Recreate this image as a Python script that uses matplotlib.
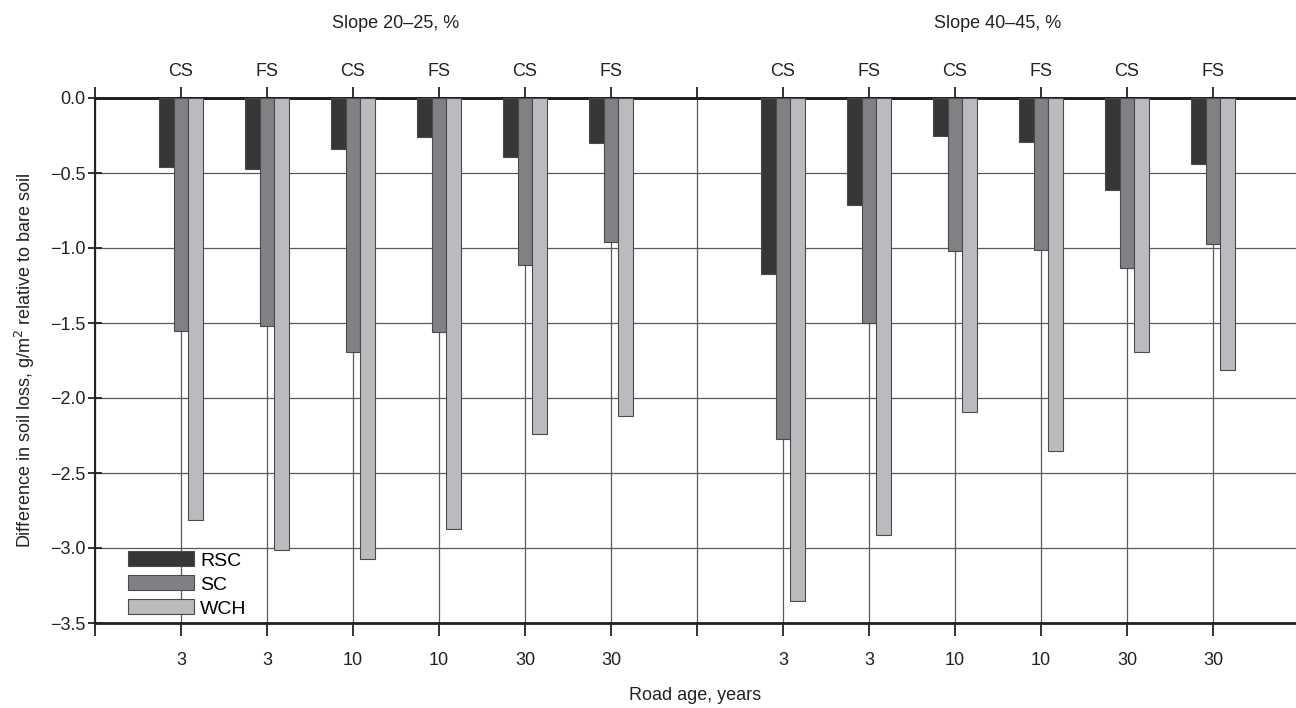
import numpy as np
import matplotlib
matplotlib.use("Agg")
import matplotlib.pyplot as plt
from matplotlib import font_manager

# pick a narrow sans if it is there
fams = {f.name for f in font_manager.fontManager.ttflist}
plt.rcParams['font.family'] = ['Liberation Sans Narrow', 'Liberation Sans', 'DejaVu Sans'] if 'Liberation Sans Narrow' in fams else ['Liberation Sans', 'DejaVu Sans']

# data
pos = [1, 2, 3, 4, 5, 6, 8, 9, 10, 11, 12, 13]
site = ['CS', 'FS', 'CS', 'FS', 'CS', 'FS', 'CS', 'FS', 'CS', 'FS', 'CS', 'FS']
age = ['3', '3', '10', '10', '30', '30', '3', '3', '10', '10', '30', '30']
rsc = [-0.46, -0.47, -0.34, -0.26, -0.39, -0.30, -1.17, -0.71, -0.25, -0.29, -0.61, -0.44]
sc = [-1.55, -1.52, -1.69, -1.56, -1.11, -0.96, -2.27, -1.50, -1.02, -1.01, -1.13, -0.97]
wch = [-2.81, -3.01, -3.07, -2.87, -2.24, -2.12, -3.35, -2.91, -2.09, -2.35, -1.69, -1.81]
slopes = ['Slope 20\u201325, %', 'Slope 40\u201345, %']
slope_x = [3.5, 10.5]
yticks = [-3.5, -3.0, -2.5, -2.0, -1.5, -1.0, -0.5, 0.0]

fig = plt.figure(figsize=(12.96, 7.08), dpi=100)
ax = fig.add_axes([95/1296, 85/708, 1201/1296, 525/708])

w = 0.171
x = np.array(pos)
kw = dict(width=w, edgecolor='#4a4a4a', linewidth=0.8, zorder=3)
ax.bar(x - w, rsc, color='#363636', label='RSC', **kw)
ax.bar(x, sc, color='#808185', label='SC', **kw)
ax.bar(x + w, wch, color='#babbbf', label='WCH', **kw)

ax.set_xlim(0, 1201/86)
ax.set_ylim(-3.5, 0)
ax.set_yticks(yticks)
ax.set_yticklabels([('%.1f' % abs(v)) if v == 0 else '\u2212%.1f' % abs(v) for v in yticks])

allticks = list(range(0, 14))
lab_bottom = [''] * 14
lab_top = [''] * 14
for p, s, a in zip(pos, site, age):
    lab_bottom[p] = a
    lab_top[p] = s
ax.set_xticks(allticks)
ax.set_xticklabels(lab_bottom)

ax.grid(True, color='#5a5a5a', linewidth=0.9)
ax.set_axisbelow(True)

for sp in ['top', 'bottom']:
    ax.spines[sp].set_linewidth(2.0)
    ax.spines[sp].set_color('#222222')
ax.spines['left'].set_linewidth(1.5)
ax.spines['left'].set_color('#222222')
ax.spines['right'].set_visible(False)

ax.tick_params(axis='x', direction='out', length=9, width=1.3, labelsize=13,
               pad=12, colors='#222222')
ax.tick_params(axis='y', direction='inout', length=10, width=1.3, labelsize=13,
               pad=2, colors='#222222')

top = ax.secondary_xaxis('top')
top.set_xticks(allticks)
top.set_xticklabels(lab_top)
top.tick_params(direction='out', length=8, width=1.3, labelsize=13, pad=5,
                colors='#222222')
top.spines['top'].set_linewidth(2.0)

for sx, st in zip(slope_x, slopes):
    ax.text(sx, 1.0 + 74/525, st, transform=ax.get_xaxis_transform(),
            ha='center', va='center', fontsize=13, color='#222222')

ax.set_xlabel('Road age, years', fontsize=13, labelpad=13, color='#222222')
ax.set_ylabel('Difference in soil loss, g/m$^2$ relative to bare soil',
              fontsize=13, labelpad=9, color='#222222')

leg = ax.legend(loc='lower left', bbox_to_anchor=(0.018, -0.012), frameon=False,
                fontsize=14, handlelength=3.4, handleheight=0.8,
                labelspacing=0.3, handletextpad=0.3, borderaxespad=0.2)

fig.savefig('out.png', dpi=100)
